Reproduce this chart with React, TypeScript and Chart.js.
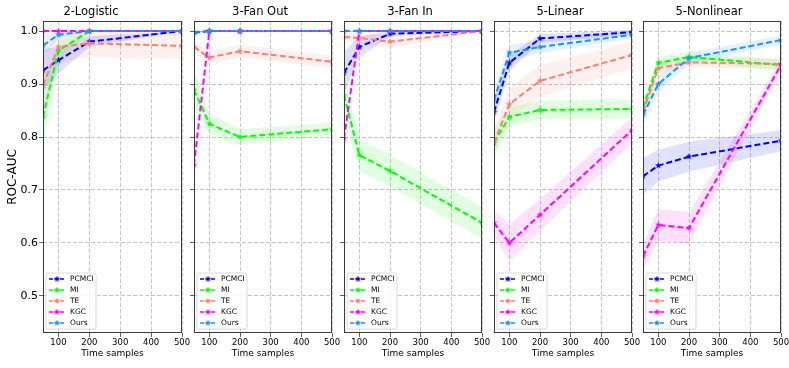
import React, { useEffect, useRef } from "react";
import { Chart, registerables } from "chart.js";

Chart.register(...registerables);

// ---------- data ----------
const xValues = [50, 100, 200, 500];
const xTicks = [100, 200, 300, 400, 500];
const yTicks = [0.5, 0.6, 0.7, 0.8, 0.9, 1.0];
const panelTitles = ["2-Logistic", "3-Fan Out", "3-Fan In", "5-Linear", "5-Nonlinear"];
const methodNames = ["PCMCI", "MI", "TE", "KGC", "Ours"];
const methodColors = ["#0000ff", "#00ff00", "#fa8072", "#ff00ff", "#1e90ff"];

// rows: PCMCI, MI, TE, KGC, Ours ; columns follow xValues
const meanLogistic = [
  [0.926, 0.945, 0.98, 1.0],
  [0.838, 0.963, 1.0, 1.0],
  [0.898, 0.97, 0.977, 0.972],
  [1.0, 1.0, 1.0, 1.0],
  [0.973, 0.993, 1.0, 1.0],
];
const stdLogistic = [
  [0.04, 0.025, 0.01, 0.0],
  [0.06, 0.02, 0.0, 0.0],
  [0.05, 0.03, 0.025, 0.025],
  [0.0, 0.0, 0.0, 0.0],
  [0.02, 0.008, 0.0, 0.0],
];
const meanFanOut = [
  [0.997, 1.0, 1.0, 1.0],
  [0.889, 0.825, 0.8, 0.815],
  [0.97, 0.95, 0.962, 0.942],
  [0.747, 1.0, 1.0, 1.0],
  [0.998, 1.0, 1.0, 1.0],
];
const stdFanOut = [
  [0.003, 0.0, 0.0, 0.0],
  [0.04, 0.02, 0.015, 0.012],
  [0.012, 0.012, 0.012, 0.012],
  [0.0, 0.0, 0.0, 0.0],
  [0.003, 0.0, 0.0, 0.0],
];
const meanFanIn = [
  [0.921, 0.97, 0.995, 1.0],
  [0.879, 0.766, 0.736, 0.638],
  [0.989, 0.987, 0.98, 1.0],
  [0.797, 1.0, 1.0, 1.0],
  [1.0, 1.0, 1.0, 1.0],
];
const stdFanIn = [
  [0.04, 0.02, 0.005, 0.0],
  [0.04, 0.03, 0.03, 0.03],
  [0.008, 0.01, 0.012, 0.0],
  [0.0, 0.0, 0.0, 0.0],
  [0.0, 0.0, 0.0, 0.0],
];
const meanLinear = [
  [0.847, 0.94, 0.986, 0.998],
  [0.789, 0.838, 0.851, 0.853],
  [0.789, 0.862, 0.906, 0.955],
  [0.638, 0.6, 0.653, 0.813],
  [0.87, 0.959, 0.97, 0.993],
];
const stdLinear = [
  [0.02, 0.015, 0.008, 0.005],
  [0.03, 0.018, 0.018, 0.018],
  [0.02, 0.03, 0.03, 0.025],
  [0.025, 0.035, 0.03, 0.025],
  [0.02, 0.015, 0.012, 0.006],
];
const meanNonlinear = [
  [0.726, 0.746, 0.763, 0.793],
  [0.855, 0.94, 0.951, 0.936],
  [0.848, 0.93, 0.941, 0.938],
  [0.575, 0.634, 0.628, 0.936],
  [0.842, 0.9, 0.949, 0.983],
];
const stdNonlinear = [
  [0.035, 0.03, 0.028, 0.02],
  [0.015, 0.012, 0.01, 0.01],
  [0.015, 0.01, 0.01, 0.01],
  [0.025, 0.03, 0.03, 0.01],
  [0.02, 0.015, 0.01, 0.008],
];

const panelMeans = [meanLogistic, meanFanOut, meanFanIn, meanLinear, meanNonlinear];
const panelStds = [stdLogistic, stdFanOut, stdFanIn, stdLinear, stdNonlinear];

// ---------- layout ----------
const FONT = "DejaVu Sans";
const plotLefts = [43, 193, 343, 493, 642];
const plotWidth = 139;
const rightPad = 10;
const canvasHeight = 368;

Chart.defaults.font.family = FONT;
Chart.defaults.color = "#000";

function hexToRgba(hex: string, a: number) {
  const n = parseInt(hex.slice(1), 16);
  return `rgba(${(n >> 16) & 255},${(n >> 8) & 255},${n & 255},${a})`;
}

function makeStar(color: string, size: number) {
  const c = document.createElement("canvas");
  c.width = size;
  c.height = size;
  const ctx = c.getContext("2d")!;
  const cx = size / 2, cy = size / 2, ro = size / 2, ri = ro * 0.42;
  ctx.beginPath();
  for (let i = 0; i < 10; i++) {
    const r = i % 2 === 0 ? ro : ri;
    const a = -Math.PI / 2 + (i * Math.PI) / 5;
    const px = cx + r * Math.cos(a), py = cy + r * Math.sin(a);
    if (i === 0) ctx.moveTo(px, py);
    else ctx.lineTo(px, py);
  }
  ctx.closePath();
  ctx.fillStyle = color;
  ctx.fill();
  return c;
}

function makeFramePlugin(stars: HTMLCanvasElement[]) {
  return {
    id: "frameAndLegend",
    afterDraw(chart: any) {
      const { ctx, chartArea } = chart;
      ctx.save();
      // frame
      ctx.strokeStyle = "#3a3a3a";
      ctx.lineWidth = 1;
      ctx.setLineDash([]);
      ctx.strokeRect(
        Math.round(chartArea.left) + 0.5,
        Math.round(chartArea.top) + 0.5,
        Math.round(chartArea.right - chartArea.left) - 1,
        Math.round(chartArea.bottom - chartArea.top) - 1
      );
      // legend
      const bw = 50, bh = 56;
      const bx = chartArea.left + 3;
      const by = chartArea.bottom - 4 - bh;
      const r = 2;
      ctx.beginPath();
      ctx.moveTo(bx + r, by);
      ctx.lineTo(bx + bw - r, by);
      ctx.quadraticCurveTo(bx + bw, by, bx + bw, by + r);
      ctx.lineTo(bx + bw, by + bh - r);
      ctx.quadraticCurveTo(bx + bw, by + bh, bx + bw - r, by + bh);
      ctx.lineTo(bx + r, by + bh);
      ctx.quadraticCurveTo(bx, by + bh, bx, by + bh - r);
      ctx.lineTo(bx, by + r);
      ctx.quadraticCurveTo(bx, by, bx + r, by);
      ctx.closePath();
      ctx.fillStyle = "rgba(255,255,255,0.85)";
      ctx.fill();
      ctx.strokeStyle = "#d0d0d0";
      ctx.lineWidth = 0.8;
      ctx.stroke();
      ctx.font = `7.5px "${FONT}"`;
      ctx.textBaseline = "middle";
      ctx.textAlign = "left";
      methodNames.forEach((name, k) => {
        const cy = by + 6 + k * 11;
        ctx.strokeStyle = methodColors[k];
        ctx.lineWidth = 1.6;
        ctx.setLineDash([4, 1.5]);
        ctx.beginPath();
        ctx.moveTo(bx + 3, cy);
        ctx.lineTo(bx + 19, cy);
        ctx.stroke();
        ctx.setLineDash([]);
        const s = stars[k];
        if (s) ctx.drawImage(s, bx + 11 - s.width / 2, cy - s.height / 2);
        ctx.fillStyle = "#000";
        ctx.fillText(name, bx + 24, cy + 0.5);
      });
      ctx.restore();
    },
  };
}

function Panel({ index }: { index: number }) {
  const ref = useRef<HTMLCanvasElement>(null);
  const yW = index === 0 ? 43 : 5;
  const left = plotLefts[index] - yW;
  const width = yW + plotWidth + rightPad;

  useEffect(() => {
    const canvas = ref.current!;
    const means = panelMeans[index];
    const stds = panelStds[index];
    const stars = methodColors.map((c) => makeStar(c, 7));
    const datasets: any[] = [];
    methodNames.forEach((name, k) => {
      const mean = means[k];
      const sd = stds[k];
      datasets.push({
        label: name + " upper",
        data: xValues.map((x, j) => ({ x, y: mean[j] + sd[j] })),
        borderWidth: 0,
        pointRadius: 0,
        borderColor: "rgba(0,0,0,0)",
        backgroundColor: hexToRgba(methodColors[k], 0.12),
        fill: "+1",
        order: 20,
      });
      datasets.push({
        label: name + " lower",
        data: xValues.map((x, j) => ({ x, y: mean[j] - sd[j] })),
        borderWidth: 0,
        pointRadius: 0,
        borderColor: "rgba(0,0,0,0)",
        fill: false,
        order: 20,
      });
    });
    methodNames.forEach((name, k) => {
      datasets.push({
        label: name,
        data: xValues.map((x, j) => ({ x, y: means[k][j] })),
        borderColor: methodColors[k],
        backgroundColor: methodColors[k],
        borderWidth: 2,
        borderDash: [6, 3],
        pointStyle: stars[k],
        pointRadius: 3.5,
        fill: false,
        tension: 0,
        order: 5 - k,
      });
    });

    const gridCommon = {
      color: "#b8b8b8",
      lineWidth: 0.8,
      tickColor: "#3a3a3a",
      tickLength: 4,
      tickWidth: 0.8,
      tickBorderDash: [],
    };

    const chart = new Chart(canvas, {
      type: "line",
      data: { datasets },
      plugins: [makeFramePlugin(stars)],
      options: {
        animation: false,
        responsive: false,
        devicePixelRatio: 1,
        layout: { padding: { left: 0, right: rightPad, top: 0, bottom: 0 } },
        plugins: {
          legend: { display: false },
          tooltip: { enabled: false },
          filler: { drawTime: "beforeDatasetsDraw" },
          title: {
            display: true,
            text: panelTitles[index],
            color: "#000",
            font: { family: FONT, size: 11.5, weight: "normal" },
            padding: { top: 5.1, bottom: 2.1 },
          },
        } as any,
        scales: {
          x: {
            type: "linear",
            min: 50,
            max: 500,
            afterBuildTicks: (s: any) => {
              s.ticks = xTicks.map((v) => ({ value: v }));
            },
            afterFit: (s: any) => {
              s.height = 35;
            },
            ticks: {
              font: { family: FONT, size: 8.5 },
              color: "#000",
              padding: 1,
              maxRotation: 0,
              autoSkip: false,
              callback: (v: any) => String(v),
            },
            grid: gridCommon as any,
            border: { display: false, dash: [4, 2] },
            title: {
              display: true,
              text: "Time samples",
              color: "#000",
              font: { family: FONT, size: 9 },
              padding: { top: 0, bottom: 9 },
            },
          },
          y: {
            type: "linear",
            min: 0.43,
            max: 1.019,
            afterBuildTicks: (s: any) => {
              s.ticks = yTicks.map((v) => ({ value: v }));
            },
            afterFit: (s: any) => {
              s.width = yW;
            },
            ticks: {
              display: index === 0,
              font: { family: FONT, size: 11 },
              color: "#000",
              padding: 1,
              autoSkip: false,
              callback: (v: any) => Number(v).toFixed(1),
            },
            grid: gridCommon as any,
            border: { display: false, dash: [4, 2] },
            title: {
              display: index === 0,
              text: "ROC-AUC",
              color: "#000",
              font: { family: FONT, size: 12 },
              padding: { top: 5.5, bottom: 0 },
            },
          },
        },
      } as any,
    });
    return () => chart.destroy();
  }, [index]);

  return (
    <canvas
      ref={ref}
      width={width}
      height={canvasHeight}
      style={{ position: "absolute", left, top: 0, width, height: canvasHeight }}
    />
  );
}

export default function App() {
  return (
    <div
      style={{
        position: "absolute",
        left: 0,
        top: 0,
        width: 789,
        height: 368,
        overflow: "hidden",
        background: "#fff",
      }}
    >
      {panelTitles.map((_, i) => (
        <Panel key={i} index={i} />
      ))}
    </div>
  );
}
